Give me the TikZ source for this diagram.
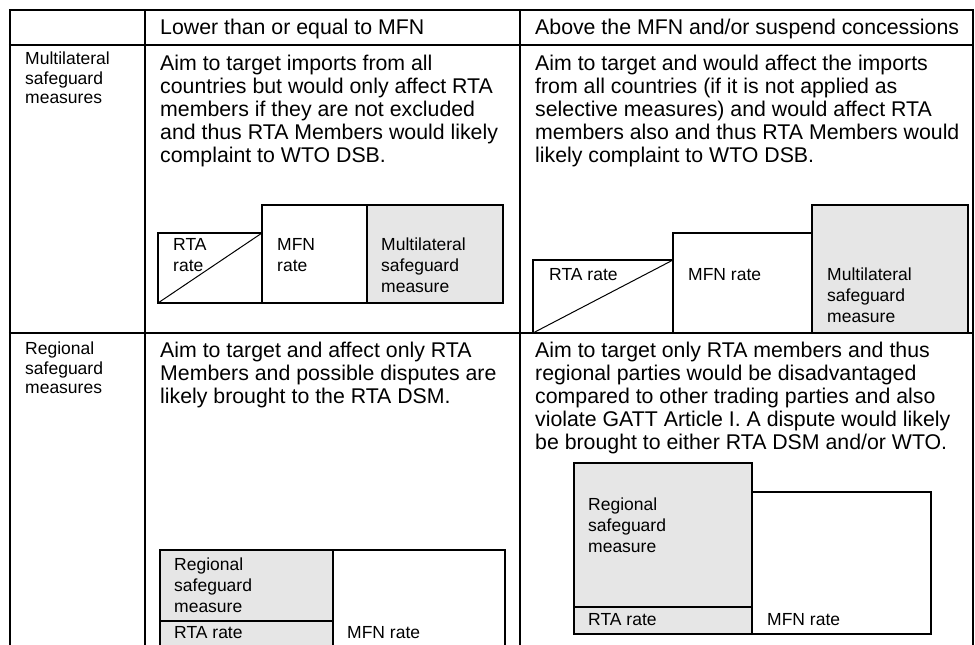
\documentclass[tikz,border=0pt]{standalone}
\usepackage{fontspec}
\setmainfont{Liberation Sans}
\usetikzlibrary{positioning}
\definecolor{boxgrey}{RGB}{230,230,230}

\tikzset{
    tabline/.style={line width=2.4pt},
    bar/.style={draw, line width=2pt},
    greybar/.style={bar, fill=boxgrey},
    celltext/.style={anchor=north west, inner sep=0pt, align=left,
        font=\fontsize{21.3}{23}\selectfont},
    labeltext/.style={anchor=north west, inner sep=0pt, align=left,
        font=\fontsize{17.5}{19.5}\selectfont},
    boxtext/.style={anchor=north west, inner sep=0pt, align=left,
        font=\fontsize{17.5}{21}\selectfont},
}

\begin{document}
\begin{tikzpicture}[x=1pt, y=-1pt]
    \useasboundingbox (0,0) rectangle (975,645);

    % table rules
    \foreach \y in {10,45,333}
        \draw [tabline] (8.8,\y) -- (974.2,\y);
    \foreach \x in {10,145,520,973}
        \draw [tabline] (\x,10) -- (\x,650);

    % header
    \node [celltext] (headlow) at (160,19) {Lower than or equal to MFN};
    \node [celltext] (headhigh) at (535,19) {Above the MFN and/or suspend concessions};

    % row labels
    \node [labeltext] (multi) at (25,52) {Multilateral\\safeguard\\measures};
    \node [labeltext] (regio) at (25,342) {Regional\\safeguard\\measures};

    % cell texts
    \node [celltext] (multilow) at (160,55) {Aim to target imports from all\\
        countries but would only affect RTA\\members if they are not excluded\\
        and thus RTA Members would likely\\complaint to WTO DSB.};
    \node [celltext] (multihigh) at (535,55) {Aim to target and would affect the imports\\
        from all countries (if it is not applied as\\selective measures) and would affect RTA\\
        members also and thus RTA Members would\\likely complaint to WTO DSB.};
    \node [celltext] (regiolow) at (160,342) {Aim to target and affect only RTA\\
        Members and possible disputes are\\likely brought to the RTA DSM.};
    \node [celltext] (regiohigh) at (535,342) {Aim to target only RTA members and thus\\
        regional parties would be disadvantaged\\compared to other trading parties and also\\
        violate GATT Article I. A dispute would likely\\be brought to either RTA DSM and/or WTO.};

    % multilateral, lower than MFN
    \draw [bar] (158,233) rectangle (262,303);
    \draw [bar] (262,205) rectangle (367,303);
    \draw [greybar] (367,205) rectangle (503,303);
    \draw [line width=1pt] (158,303) -- (262,233);
    \node [boxtext] (rtaA) at (173,238) {RTA\\rate};
    \node [boxtext] (mfnA) at (277,238) {MFN\\rate};
    \node [boxtext] (sgA) at (381,238) {Multilateral\\safeguard\\measure};

    % multilateral, above MFN
    \draw [bar] (533,260) rectangle (673,333);
    \draw [bar] (673,233) rectangle (812,333);
    \draw [greybar] (812,205) rectangle (968,333);
    \draw [line width=1pt] (533,333) -- (673,260);
    \node [boxtext] (rtaB) at (549,268) {RTA rate};
    \node [boxtext] (mfnB) at (688,268) {MFN rate};
    \node [boxtext] (sgB) at (827,268) {Multilateral\\safeguard\\measure};

    % regional, lower than MFN
    \draw [greybar] (160,550) rectangle (333,621);
    \draw [greybar] (160,621) rectangle (333,660);
    \draw [bar] (333,550) rectangle (505,660);
    \node [boxtext] (sgC) at (174,558) {Regional\\safeguard\\measure};
    \node [boxtext] (rtaC) at (174,626) {RTA rate};
    \node [boxtext] (mfnC) at (347,626) {MFN rate};

    % regional, above MFN
    \draw [greybar] (574,463) rectangle (752,607);
    \draw [greybar] (574,607) rectangle (752,634);
    \draw [bar] (752,492) rectangle (931,634);
    \node [boxtext] (sgD) at (588,498) {Regional\\safeguard\\measure};
    \node [boxtext] (rtaD) at (588,613) {RTA rate};
    \node [boxtext] (mfnD) at (767,613) {MFN rate};
\end{tikzpicture}
\end{document}
